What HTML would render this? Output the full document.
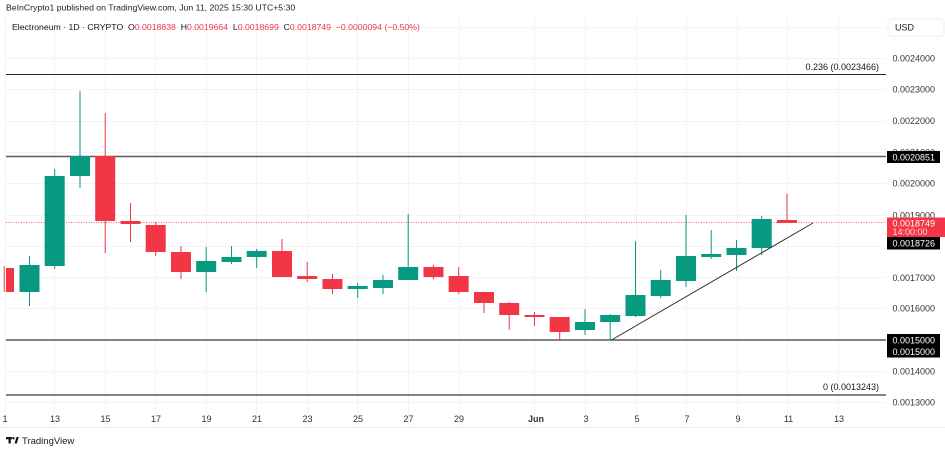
<!DOCTYPE html>
<html><head><meta charset="utf-8"><style>
html,body{margin:0;padding:0;background:#fff;}
svg{display:block;font-family:"Liberation Sans",Arial,sans-serif;}
</style></head><body>
<svg width="945" height="449" viewBox="0 0 945 449" xmlns="http://www.w3.org/2000/svg">
<rect width="945" height="449" fill="#fff"/>
<!-- grid -->
<g stroke="#f2f3f6" stroke-width="1">
<line x1="6" x2="886" y1="58.5" y2="58.5"/><line x1="6" x2="886" y1="89.5" y2="89.5"/><line x1="6" x2="886" y1="121.5" y2="121.5"/><line x1="6" x2="886" y1="152.5" y2="152.5"/><line x1="6" x2="886" y1="183.5" y2="183.5"/><line x1="6" x2="886" y1="215.5" y2="215.5"/><line x1="6" x2="886" y1="246.5" y2="246.5"/><line x1="6" x2="886" y1="277.5" y2="277.5"/><line x1="6" x2="886" y1="308.5" y2="308.5"/><line x1="6" x2="886" y1="340.5" y2="340.5"/><line x1="6" x2="886" y1="371.5" y2="371.5"/><line x1="6" x2="886" y1="402.5" y2="402.5"/><line x1="6" x2="886" y1="27.5" y2="27.5"/>
<line x1="5.5" x2="5.5" y1="16" y2="427"/><line x1="54.5" x2="54.5" y1="16" y2="427"/><line x1="105.5" x2="105.5" y1="16" y2="427"/><line x1="155.5" x2="155.5" y1="16" y2="427"/><line x1="206.5" x2="206.5" y1="16" y2="427"/><line x1="256.5" x2="256.5" y1="16" y2="427"/><line x1="307.5" x2="307.5" y1="16" y2="427"/><line x1="357.5" x2="357.5" y1="16" y2="427"/><line x1="408.5" x2="408.5" y1="16" y2="427"/><line x1="459.5" x2="459.5" y1="16" y2="427"/><line x1="534.5" x2="534.5" y1="16" y2="427"/><line x1="585.5" x2="585.5" y1="16" y2="427"/><line x1="636.5" x2="636.5" y1="16" y2="427"/><line x1="686.5" x2="686.5" y1="16" y2="427"/><line x1="737.5" x2="737.5" y1="16" y2="427"/><line x1="787.5" x2="787.5" y1="16" y2="427"/><line x1="838.5" x2="838.5" y1="16" y2="427"/>
</g>
<line x1="0" x2="945" y1="427.5" y2="427.5" stroke="#eceef2"/>
<!-- fib lines -->
<line x1="6" x2="886" y1="74.5" y2="74.5" stroke="#2a2a2a" stroke-width="1"/>
<line x1="6" x2="886" y1="156.5" y2="156.5" stroke="#5a5a5a" stroke-width="1.4"/>
<line x1="6" x2="886" y1="340" y2="340" stroke="#5a5a5a" stroke-width="1.4"/>
<line x1="6" x2="886" y1="395" y2="395" stroke="#5a5a5a" stroke-width="1.4"/>
<!-- price line dotted -->
<line x1="6" x2="886" y1="222.5" y2="222.5" stroke="#f23645" stroke-width="1" stroke-dasharray="1,1.5" opacity="0.8"/>
<!-- candles -->
<g id="candles">
<line x1="4.2" x2="4.2" y1="266" y2="292" stroke="#f23645"/><rect x="6" y="268" width="8" height="24" fill="#f23645"/>
<line x1="29.5" x2="29.5" y1="256" y2="306" stroke="#089981"/><rect x="19.5" y="265" width="20" height="27" fill="#089981"/>
<line x1="54.7" x2="54.7" y1="169" y2="269" stroke="#089981"/><rect x="44.7" y="176" width="20" height="90" fill="#089981"/>
<line x1="80" x2="80" y1="91" y2="188" stroke="#089981"/><rect x="70" y="156" width="20" height="20" fill="#089981"/>
<line x1="105.2" x2="105.2" y1="113" y2="253" stroke="#f23645"/><rect x="95.2" y="156" width="20" height="65" fill="#f23645"/>
<line x1="130.5" x2="130.5" y1="203" y2="242" stroke="#f23645"/><rect x="120.5" y="221" width="20" height="3" fill="#f23645"/>
<line x1="155.7" x2="155.7" y1="222" y2="256" stroke="#f23645"/><rect x="145.7" y="225" width="20" height="27" fill="#f23645"/>
<line x1="181" x2="181" y1="246" y2="279" stroke="#f23645"/><rect x="171" y="252" width="20" height="20" fill="#f23645"/>
<line x1="206.2" x2="206.2" y1="247" y2="292" stroke="#089981"/><rect x="196.2" y="261" width="20" height="11" fill="#089981"/>
<line x1="231.5" x2="231.5" y1="246" y2="264" stroke="#089981"/><rect x="221.5" y="257" width="20" height="5" fill="#089981"/>
<line x1="256.7" x2="256.7" y1="249" y2="268" stroke="#089981"/><rect x="246.7" y="251" width="20" height="6" fill="#089981"/>
<line x1="282" x2="282" y1="239" y2="277" stroke="#f23645"/><rect x="272" y="251" width="20" height="26" fill="#f23645"/>
<line x1="307.2" x2="307.2" y1="262" y2="282" stroke="#f23645"/><rect x="297.2" y="276" width="20" height="3" fill="#f23645"/>
<line x1="332.5" x2="332.5" y1="274" y2="294" stroke="#f23645"/><rect x="322.5" y="279" width="20" height="10" fill="#f23645"/>
<line x1="357.7" x2="357.7" y1="283" y2="298" stroke="#089981"/><rect x="347.7" y="286" width="20" height="3" fill="#089981"/>
<line x1="383" x2="383" y1="275" y2="294" stroke="#089981"/><rect x="373" y="280" width="20" height="8" fill="#089981"/>
<line x1="408.2" x2="408.2" y1="214" y2="280" stroke="#089981"/><rect x="398.2" y="267" width="20" height="13" fill="#089981"/>
<line x1="433.5" x2="433.5" y1="265" y2="279" stroke="#f23645"/><rect x="423.5" y="267" width="20" height="10" fill="#f23645"/>
<line x1="458.7" x2="458.7" y1="267" y2="294" stroke="#f23645"/><rect x="448.7" y="276" width="20" height="16" fill="#f23645"/>
<line x1="484" x2="484" y1="292" y2="313" stroke="#f23645"/><rect x="474" y="292" width="20" height="11" fill="#f23645"/>
<line x1="509.2" x2="509.2" y1="302" y2="330" stroke="#f23645"/><rect x="499.2" y="303" width="20" height="12" fill="#f23645"/>
<line x1="534.5" x2="534.5" y1="312" y2="326" stroke="#f23645"/><rect x="524.5" y="315" width="20" height="2" fill="#f23645"/>
<line x1="559.7" x2="559.7" y1="317" y2="340" stroke="#f23645"/><rect x="549.7" y="317" width="20" height="15" fill="#f23645"/>
<line x1="585" x2="585" y1="309" y2="335" stroke="#089981"/><rect x="575" y="322" width="20" height="8" fill="#089981"/>
<line x1="610.2" x2="610.2" y1="314" y2="340" stroke="#089981"/><rect x="600.2" y="315" width="20" height="7" fill="#089981"/>
<line x1="635.5" x2="635.5" y1="241" y2="317" stroke="#089981"/><rect x="625.5" y="295" width="20" height="21" fill="#089981"/>
<line x1="660.7" x2="660.7" y1="270" y2="298" stroke="#089981"/><rect x="650.7" y="280" width="20" height="16" fill="#089981"/>
<line x1="686" x2="686" y1="215" y2="287" stroke="#089981"/><rect x="676" y="256" width="20" height="25" fill="#089981"/>
<line x1="711.2" x2="711.2" y1="230" y2="259" stroke="#089981"/><rect x="701.2" y="254" width="20" height="3" fill="#089981"/>
<line x1="736.5" x2="736.5" y1="240" y2="271" stroke="#089981"/><rect x="726.5" y="248" width="20" height="7" fill="#089981"/>
<line x1="761.7" x2="761.7" y1="216" y2="255" stroke="#089981"/><rect x="751.7" y="219" width="20" height="29" fill="#089981"/>
<line x1="787" x2="787" y1="194" y2="223" stroke="#f23645"/><rect x="777" y="220" width="20" height="3" fill="#f23645"/>
</g>
<!-- trendline -->
<line x1="611.5" y1="340" x2="813" y2="223" stroke="#333" stroke-width="1"/>
<!-- fib labels -->
<g font-size="9" fill="#131722" text-anchor="end">
<text x="879" y="70">0.236 (0.0023466)</text>
<text x="879" y="390">0 (0.0013243)</text>
</g>
<!-- price axis -->
<rect x="888" y="19" width="56" height="17" rx="3" fill="#fff" stroke="#eceef2"/>
<text x="895" y="30.5" font-size="9" fill="#131722">USD</text>
<g font-size="9" fill="#333">
<text x="892.5" y="61.5">0.0024000</text>
<text x="892.5" y="92.5">0.0023000</text>
<text x="892.5" y="124">0.0022000</text>
<text x="892.5" y="155.5">0.0021000</text>
<text x="892.5" y="186.5">0.0020000</text>
<text x="892.5" y="218.5">0.0019000</text>
<text x="892.5" y="281">0.0017000</text>
<text x="892.5" y="311.5">0.0016000</text>
<text x="892.5" y="374.5">0.0014000</text>
<text x="892.5" y="405.5">0.0013000</text>
</g>
<rect x="887" y="151" width="53" height="12" fill="#000"/>
<text x="892.5" y="160.5" font-size="9" fill="#fff">0.0020851</text>
<rect x="887" y="217.5" width="58" height="19.5" fill="#f23645"/>
<text x="892.5" y="226.5" font-size="9" fill="#fff">0.0018749</text>
<text x="892.5" y="235" font-size="9" fill="#fcd7da">14:00:00</text>
<rect x="887" y="237" width="53" height="12.5" fill="#000"/>
<text x="892.5" y="246.5" font-size="9" fill="#fff">0.0018726</text>
<rect x="887" y="334" width="53" height="12" fill="#000"/>
<text x="892.5" y="343.5" font-size="9" fill="#fff">0.0015000</text>
<rect x="887" y="346" width="53" height="11.5" fill="#000"/>
<text x="892.5" y="355" font-size="9" fill="#fff">0.0015000</text>
<!-- date labels -->
<g font-size="9" fill="#333" text-anchor="middle">
<text x="5" y="422">1</text>
<text x="55" y="422">13</text>
<text x="105.5" y="422">15</text>
<text x="156" y="422">17</text>
<text x="206.5" y="422">19</text>
<text x="257" y="422">21</text>
<text x="307.5" y="422">23</text>
<text x="358" y="422">25</text>
<text x="408.5" y="422">27</text>
<text x="459" y="422">29</text>
<text x="536" y="422" font-weight="bold">Jun</text>
<text x="586" y="422">3</text>
<text x="637" y="422">5</text>
<text x="687" y="422">7</text>
<text x="738" y="422">9</text>
<text x="788.5" y="422">11</text>
<text x="839" y="422">13</text>
</g>
<!-- header -->
<text x="6" y="10.5" font-size="8.7" fill="#222">BeInCrypto1 published on TradingView.com, Jun 11, 2025 15:30 UTC+5:30</text>
<text x="12" y="30" font-size="8.7" fill="#131722" xml:space="preserve">Electroneum · 1D · CRYPTO  O<tspan fill="#f23645">0.0018838</tspan>  H<tspan fill="#f23645">0.0019664</tspan>  L<tspan fill="#f23645">0.0018699</tspan>  C<tspan fill="#f23645">0.0018749</tspan>  <tspan fill="#f23645">−0.0000094 (−0.50%)</tspan></text>
<!-- logo -->
<g fill="#131722">
<rect x="6" y="437" width="6" height="2.3"/>
<rect x="8.5" y="437" width="2.3" height="6.5"/>
<circle cx="13.5" cy="438.2" r="1.2"/>
<polygon points="14.5,443.5 16.5,437 18.8,437 16.8,443.5"/>
</g>
<text x="22" y="444" font-size="9.5" fill="#131722">TradingView</text>
</svg>
</body></html>
